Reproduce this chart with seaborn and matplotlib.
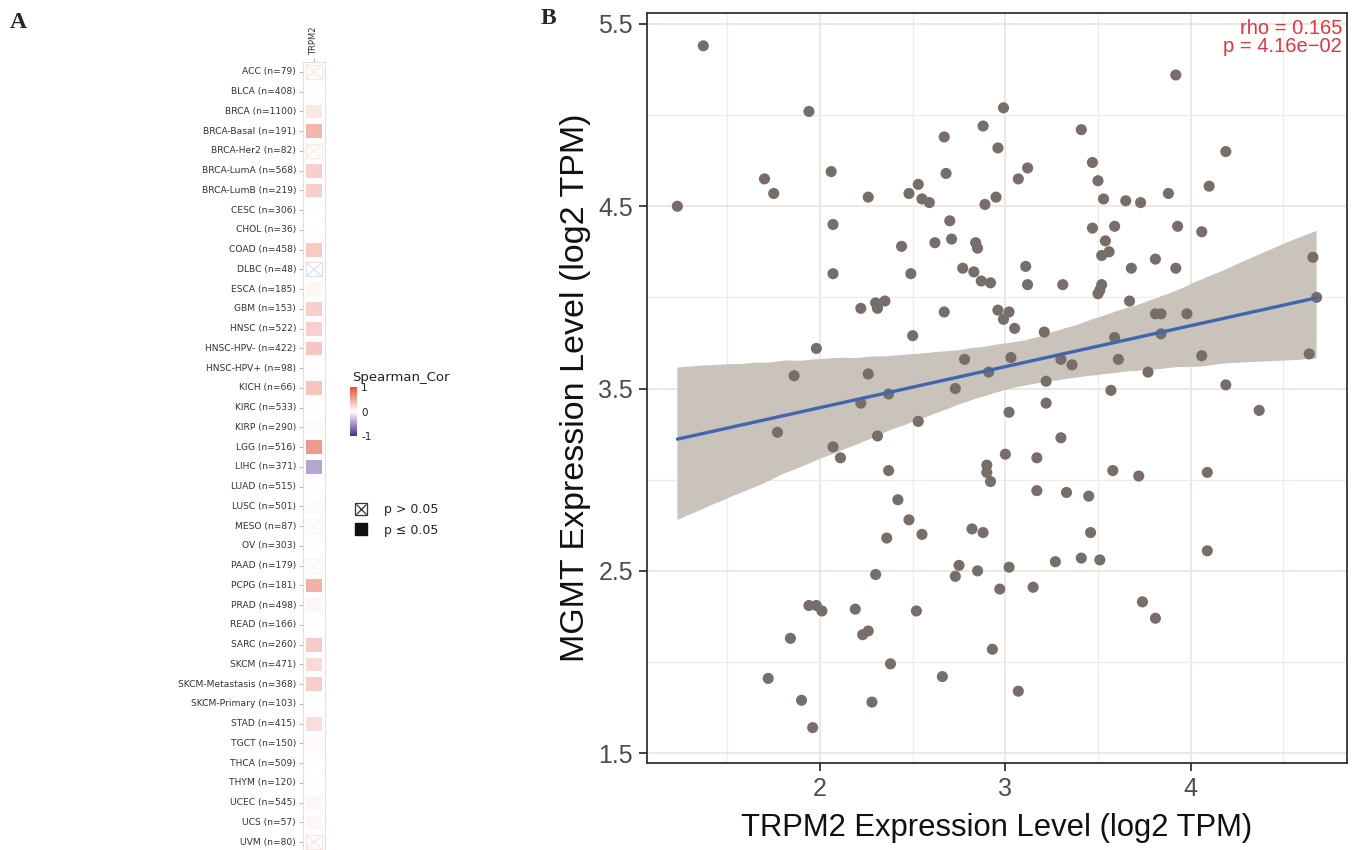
import matplotlib
matplotlib.use('Agg')
import matplotlib.pyplot as plt
import seaborn as sns
import pandas as pd
import numpy as np
from matplotlib.colors import LinearSegmentedColormap
from matplotlib.collections import PolyCollection
from matplotlib.legend_handler import HandlerTuple
from matplotlib.lines import Line2D
from matplotlib.patches import Rectangle

# ---- panel A: TRPM2 vs MGMT Spearman correlation across TCGA cancer types
cancers = ['ACC (n=79)', 'BLCA (n=408)', 'BRCA (n=1100)', 'BRCA-Basal (n=191)',
           'BRCA-Her2 (n=82)', 'BRCA-LumA (n=568)', 'BRCA-LumB (n=219)', 'CESC (n=306)',
           'CHOL (n=36)', 'COAD (n=458)', 'DLBC (n=48)', 'ESCA (n=185)', 'GBM (n=153)',
           'HNSC (n=522)', 'HNSC-HPV- (n=422)', 'HNSC-HPV+ (n=98)', 'KICH (n=66)',
           'KIRC (n=533)', 'KIRP (n=290)', 'LGG (n=516)', 'LIHC (n=371)', 'LUAD (n=515)',
           'LUSC (n=501)', 'MESO (n=87)', 'OV (n=303)', 'PAAD (n=179)', 'PCPG (n=181)',
           'PRAD (n=498)', 'READ (n=166)', 'SARC (n=260)', 'SKCM (n=471)',
           'SKCM-Metastasis (n=368)', 'SKCM-Primary (n=103)', 'STAD (n=415)',
           'TGCT (n=150)', 'THCA (n=509)', 'THYM (n=120)', 'UCEC (n=545)', 'UCS (n=57)',
           'UVM (n=80)']
rho_values = [0.14, 0.01, 0.14, 0.42, 0.12, 0.27, 0.28, 0.00, 0.00, 0.30,
              -0.15, 0.05, 0.27, 0.26, 0.32, 0.01, 0.33, 0.00, 0.03, 0.58,
              -0.42, 0.00, 0.02, 0.05, 0.01, 0.06, 0.45, 0.05, 0.00, 0.29,
              0.21, 0.28, 0.01, 0.19, 0.05, 0.01, 0.00, 0.05, 0.05, 0.15]
significant = [False, True, True, True, False, True, True, True, True, True,
               False, True, True, True, True, True, True, True, True, True,
               True, True, True, False, True, False, True, True, True, True,
               True, True, True, True, False, True, True, True, True, False]

# ---- panel B: scatter of expression levels
trpm2 = [1.37, 1.23, 1.94, 1.70, 1.75, 2.06, 2.07, 2.07, 2.26, 2.22,
         2.30, 2.31, 2.35, 1.98, 2.44, 2.49, 2.50, 2.48, 2.53, 2.55,
         2.59, 2.67, 2.68, 2.70, 2.71, 2.62, 2.67, 1.86, 2.26, 3.92,
         2.99, 2.88, 3.41, 2.96, 4.19, 3.47, 3.12, 3.07, 3.50, 4.10,
         3.88, 2.95, 2.89, 3.53, 3.65, 3.73, 2.84, 2.85, 3.47, 3.59,
         3.93, 4.06, 3.54, 3.56, 3.52, 2.77, 2.83, 2.87, 2.92, 3.11,
         3.12, 3.31, 3.68, 3.81, 3.92, 3.52, 3.51, 3.50, 2.96, 3.02,
         2.99, 3.05, 3.67, 3.81, 3.84, 3.98, 3.21, 3.59, 3.84, 4.66,
         4.68, 2.78, 3.03, 3.30, 3.36, 3.61, 3.77, 4.06, 4.64, 2.91,
         3.22, 1.77, 2.22, 2.37, 2.73, 2.31, 2.53, 2.07, 2.11, 2.37,
         2.42, 2.48, 2.55, 2.36, 2.30, 2.75, 2.73, 1.94, 1.98, 2.01,
         2.19, 2.52, 1.84, 2.23, 2.26, 2.38, 2.66, 1.72, 1.90, 2.28,
         1.96, 4.19, 3.57, 3.22, 3.02, 4.37, 3.30, 3.00, 3.17, 2.90,
         2.90, 2.92, 3.58, 3.72, 4.09, 3.17, 3.33, 3.45, 2.82, 2.88,
         3.46, 4.09, 2.85, 3.02, 3.27, 3.41, 3.51, 2.97, 3.15, 3.74,
         3.81, 2.93, 3.07]
mgmt = [5.38, 4.50, 5.02, 4.65, 4.57, 4.69, 4.40, 4.13, 4.55, 3.94,
        3.97, 3.94, 3.98, 3.72, 4.28, 4.13, 3.79, 4.57, 4.62, 4.54,
        4.52, 4.88, 4.68, 4.42, 4.32, 4.30, 3.92, 3.57, 3.58, 5.22,
        5.04, 4.94, 4.92, 4.82, 4.80, 4.74, 4.71, 4.65, 4.64, 4.61,
        4.57, 4.55, 4.51, 4.54, 4.53, 4.52, 4.30, 4.27, 4.38, 4.39,
        4.39, 4.36, 4.31, 4.25, 4.23, 4.16, 4.14, 4.09, 4.08, 4.17,
        4.07, 4.07, 4.16, 4.21, 4.16, 4.07, 4.04, 4.02, 3.93, 3.92,
        3.88, 3.83, 3.98, 3.91, 3.91, 3.91, 3.81, 3.78, 3.80, 4.22,
        4.00, 3.66, 3.67, 3.66, 3.63, 3.66, 3.59, 3.68, 3.69, 3.59,
        3.54, 3.26, 3.42, 3.47, 3.50, 3.24, 3.32, 3.18, 3.12, 3.05,
        2.89, 2.78, 2.70, 2.68, 2.48, 2.53, 2.47, 2.31, 2.31, 2.28,
        2.29, 2.28, 2.13, 2.15, 2.17, 1.99, 1.92, 1.91, 1.79, 1.78,
        1.64, 3.52, 3.49, 3.42, 3.37, 3.38, 3.23, 3.14, 3.12, 3.08,
        3.04, 2.99, 3.05, 3.02, 3.04, 2.94, 2.93, 2.91, 2.73, 2.71,
        2.71, 2.61, 2.50, 2.52, 2.55, 2.57, 2.56, 2.40, 2.41, 2.33,
        2.24, 2.07, 1.84]
rho_text = 'rho = 0.165'
p_text = 'p = 4.16e\u221202'

sns.set_theme(style='white')
plt.rcParams['font.family'] = ['DejaVu Sans']

W, H = 1361, 850
fig = plt.figure(figsize=(W / 100, H / 100), dpi=100)

cmap = LinearSegmentedColormap.from_list('spearman', ['#4B2C8C', '#FFFFFF', '#E4503C'])
norm = plt.Normalize(-1, 1)

ax_h = fig.add_axes([303 / W, 1 - 852 / H, 22 / W, 790 / H])
cax = fig.add_axes([350 / W, 1 - 436 / H, 7 / W, 49 / H])
heat = pd.DataFrame({'TRPM2': rho_values}, index=cancers)
mask = ~np.array(significant)[:, None]
sns.heatmap(heat, ax=ax_h, cbar_ax=cax, cmap=cmap, vmin=-1, vmax=1, mask=mask,
            linewidths=4, linecolor='white', yticklabels=True, xticklabels=True)

# crossed boxes for p > 0.05
tile_w, tile_h = 0.72, 0.72
for i, (val, sig) in enumerate(zip(rho_values, significant)):
    if sig:
        continue
    c = cmap(norm(val))
    x0, y0 = 0.5 - tile_w / 2, i + 0.5 - tile_h / 2
    ax_h.add_patch(Rectangle((x0, y0), tile_w, tile_h, fill=False, ec=c, lw=0.9))
    ax_h.plot([x0, x0 + tile_w], [y0, y0 + tile_h], color=c, lw=0.9)
    ax_h.plot([x0, x0 + tile_w], [y0 + tile_h, y0], color=c, lw=0.9)

ax_h.set_ylabel('')
ax_h.xaxis.tick_top()
ax_h.set_xticklabels(['TRPM2'], rotation=90, fontsize=6, color='#333333')
ax_h.set_yticklabels(cancers, rotation=0, fontsize=6.6, color='#333333')
ax_h.tick_params(axis='both', length=3, width=0.6, color='#AAAAAA', pad=2,
                 left=True, top=True, bottom=False)
for s in ax_h.spines.values():
    s.set_visible(True)
    s.set_color('#E0E0E0')
    s.set_linewidth(0.8)

cbar = ax_h.collections[0].colorbar
cbar.outline.set_visible(False)
cbar.set_ticks([-1, 0, 1])
cbar.set_ticklabels(['-1', '0', '1'])
cax.tick_params(length=0, labelsize=7.5, pad=3, colors='#222222')
fig.text(352 / W, 1 - 377 / H, 'Spearman_Cor', fontsize=9.5, va='center', ha='left',
         color='#222222')

cross_box = (Line2D([], [], ls='', marker='s', markersize=9, markerfacecolor='none',
                    markeredgecolor='#333333', markeredgewidth=0.9),
             Line2D([], [], ls='', marker='x', markersize=6.5, color='#333333',
                    markeredgewidth=0.9))
filled_box = Line2D([], [], ls='', marker='s', color='#111111', markersize=8)
fig.legend([cross_box, filled_box], ['p > 0.05', 'p \u2264 0.05'], loc='center left',
           bbox_to_anchor=(342 / W, 1 - 520 / H), frameon=False, fontsize=9,
           handlelength=1.2, handletextpad=1.3, labelspacing=0.6,
           handler_map={tuple: HandlerTuple(ndivide=1, pad=0)})

# ---- panel B
ax = fig.add_axes([647 / W, 1 - 763 / H, 700 / W, 750 / H])
sns.regplot(x=trpm2, y=mgmt, ax=ax, ci=95, seed=0, n_boot=1000,
            scatter_kws=dict(s=64, color='#776E6A', edgecolor='none', alpha=1, zorder=3),
            line_kws=dict(color='#4266AE', lw=2.4, zorder=5))
for coll in ax.collections:
    if isinstance(coll, PolyCollection):
        coll.set_facecolor('#C9C3BC')
        coll.set_edgecolor('none')
        coll.set_alpha(1)
        coll.set_zorder(2)

ax.set_xlim(1.066, 4.844)
ax.set_ylim(1.446, 5.56)
ax.set_xticks([2, 3, 4])
ax.set_xticks([1.5, 2.5, 3.5, 4.5], minor=True)
ax.set_yticks([1.5, 2.5, 3.5, 4.5, 5.5])
ax.set_yticks([2, 3, 4, 5], minor=True)
ax.set_xticklabels(['2', '3', '4'])
ax.set_yticklabels(['1.5', '2.5', '3.5', '4.5', '5.5'])
ax.grid(True, which='major', color='#EBE4DA', lw=1.2)
ax.grid(True, which='minor', color='#EFEBE6', lw=0.9)
ax.set_axisbelow(True)
ax.tick_params(axis='both', which='major', length=6, width=1.3, color='#333333',
               labelsize=18, labelcolor='#4D4D4D', pad=4, left=True, bottom=True)
ax.tick_params(axis='both', which='minor', length=0)
for lab in ax.get_xticklabels() + ax.get_yticklabels():
    lab.set_fontfamily('Liberation Sans')
for s in ax.spines.values():
    s.set_color('#333333')
    s.set_linewidth(1.3)
ax.set_xlabel('TRPM2 Expression Level (log2 TPM)', fontsize=22.3, family='Liberation Sans',
              color='#111111', labelpad=9)
ax.set_ylabel('MGMT Expression Level (log2 TPM)', fontsize=24.5, family='Liberation Sans',
              color='#111111', labelpad=5)
ax.text(0.993, 0.992, rho_text + '\n' + p_text, transform=ax.transAxes, ha='right',
        va='top', fontsize=14.5, color='#E3343F', family='Liberation Sans',
        linespacing=0.95)

fig.text(10 / W, 1 - 22 / H, 'A', fontsize=17, fontweight='bold', family='Liberation Serif',
         va='center', ha='left')
fig.text(541 / W, 1 - 19 / H, 'B', fontsize=17, fontweight='bold', family='Liberation Serif',
         va='center', ha='left')

fig.savefig('out.png', dpi=100, facecolor='white')
